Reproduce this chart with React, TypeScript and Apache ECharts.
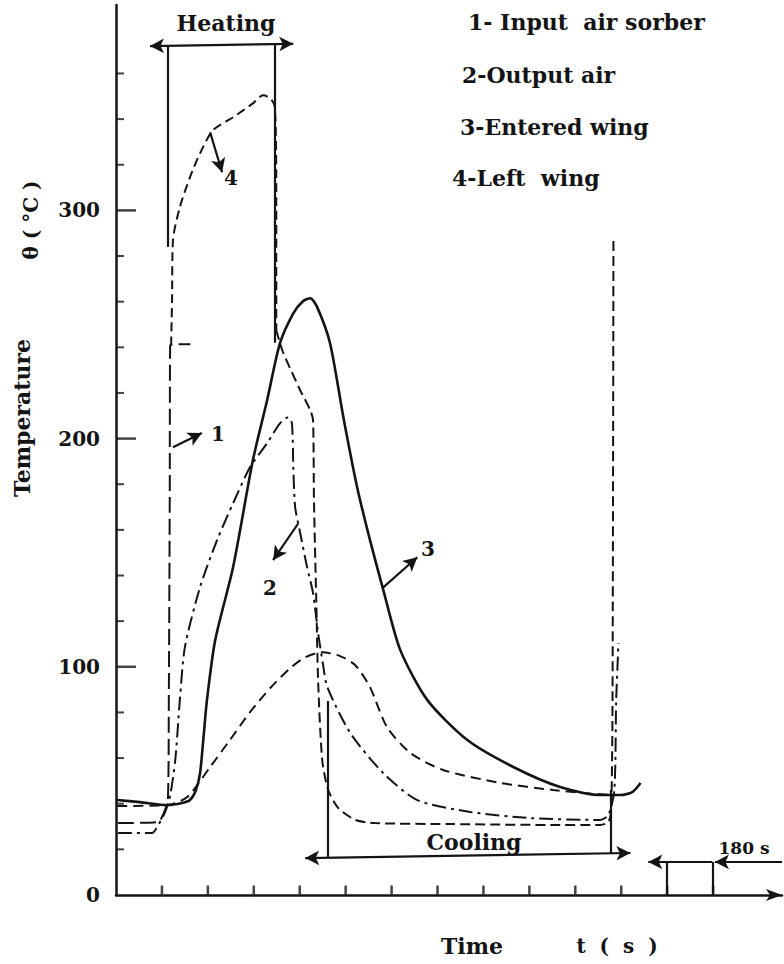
import React, { useEffect, useRef } from "react";
import * as echarts from "echarts";

type Pt = [number, number];

// x = time in axis-tick units (13 ticks on the time axis), y = temperature in °C
const yLabelValues = [0, 100, 200, 300];
const yMajorTicks = [100, 200, 300];
const yMinorTicks = [20, 40, 60, 80, 120, 140, 160, 180, 220, 240, 260, 280, 320, 340, 360];
const xTickUnits = [1, 2, 3, 4, 5, 6, 7, 8, 9, 10, 11, 12, 13];

// 1 - Input air sorber (heating step, then fall during cooling and rise at the end)
const inputAirHeating: Pt[] = [
  [0.04, 31.5], [0.92, 32.0], [1.02, 35.0], [1.13, 41.6], [1.15, 85.4], [1.17, 173],
  [1.18, 240.9], [1.39, 241.3], [1.62, 241.3],
];
const inputAirCooling: Pt[] = [
  [3.49, 247.5], [3.62, 238.7], [3.79, 230.8], [4.01, 221.2], [4.23, 212.4], [4.29, 208.1],
  [4.31, 173.0], [4.36, 129.2], [4.4, 94.2], [4.49, 59.1], [4.62, 46.0], [4.84, 38.1],
  [5.21, 32.9], [5.64, 31.5], [7.28, 31.1], [9.46, 30.7], [10.54, 30.7], [10.72, 32.0],
  [10.78, 37.2], [10.81, 85.4], [10.83, 286.9],
];
// 2 - Output air
const outputAir: Pt[] = [
  [0.04, 27.2], [0.78, 27.2], [0.92, 30.7], [1.07, 36.4], [1.18, 43.8], [1.29, 59.1],
  [1.39, 85.4], [1.5, 108.6], [1.83, 134.9], [2.2, 155.5], [2.55, 171.7], [2.92, 187.5],
  [3.29, 198.0], [3.57, 206.7], [3.75, 209.4], [3.83, 206.7], [3.86, 187.5], [3.9, 170.0],
  [4.01, 158.6], [4.16, 143.7], [4.29, 132.3], [4.4, 114.8], [4.51, 100.7], [4.6, 91.1],
  [5.1, 71.0], [5.82, 53.4], [6.56, 41.6], [7.71, 36.4], [9.02, 33.7], [10.54, 32.9],
  [10.72, 35.0], [10.85, 46.0], [10.89, 85.4], [10.94, 110.4],
];
// 3 - Entered wing
const enteredWing: Pt[] = [
  [0.02, 41.6], [0.52, 40.7], [1.11, 39.4], [1.44, 40.3], [1.61, 41.6], [1.74, 46.0],
  [1.83, 53.4], [1.9, 67.9], [1.98, 85.4], [2.16, 111.7], [2.55, 143.7], [2.98, 190.5],
  [3.29, 216.8], [3.57, 241.8], [3.86, 254.9], [4.07, 260.2], [4.23, 261.5], [4.38, 257.6],
  [4.66, 241.8], [4.95, 209.4], [5.25, 178.7], [5.53, 155.5], [5.82, 133.6], [6.19, 107.3],
  [6.78, 85.4], [7.65, 67.9], [8.65, 56.1], [9.67, 47.3], [10.54, 43.8], [10.98, 43.8],
  [11.24, 45.1], [11.42, 49.1],
];
// 4 - Left wing
const leftWing: Pt[] = [
  [1.2, 240.9], [1.22, 260.6], [1.24, 286.9], [1.39, 301.4], [1.61, 314.5], [1.83, 325.0],
  [2.11, 335.1], [2.55, 340.8], [2.98, 346.9], [3.2, 350.4], [3.36, 349.1], [3.46, 345.2],
  [3.49, 304.4], [3.49, 247.5],
];
// unlabeled dashed curve (low hump)
const lowerDashed: Pt[] = [
  [0.03, 39.0], [1.11, 39.4], [1.55, 42.9], [2.05, 56.1], [2.48, 67.9], [2.92, 80.2],
  [3.36, 90.7], [3.79, 99.4], [4.12, 104.2], [4.49, 106.4], [4.88, 104.7], [5.21, 100.7],
  [5.53, 91.1], [5.9, 73.6], [6.41, 62.2], [7.12, 54.8], [8.37, 49.1], [9.52, 46.0],
  [10.17, 44.7], [10.81, 43.8],
];

const legendLines = ["1- Input  air sorber", "2-Output air", "3-Entered wing", "4-Left  wing"];

const INK = "#141414";
const FONT = '"DejaVu Serif", "Liberation Serif", serif';

export default function App() {
  const ref = useRef<HTMLDivElement>(null);

  useEffect(() => {
    if (!ref.current) return;
    const chart = echarts.init(ref.current, undefined, { renderer: "svg" });

    const curve = (name: string, data: Pt[], type: any, width = 2) => ({
      name,
      type: "line",
      data,
      symbol: "none",
      smooth: 0.25,
      silent: true,
      clip: false,
      lineStyle: { color: INK, width, type },
      z: 3,
    });

    const seg = (a: Pt, b: Pt, endArrow = false, startArrow = false) => [
      { coord: a, symbol: startArrow ? "arrow" : "none", symbolSize: [11, 14] },
      { coord: b, symbol: endArrow ? "arrow" : "none", symbolSize: [11, 14] },
    ];

    const annotations = [
      // Heating bracket
      seg([0.74, 372], [3.86, 373], true, true),
      seg([1.13, 372], [1.13, 284]),
      seg([3.46, 373], [3.46, 242]),
      // Cooling bracket
      seg([4.12, 16.2], [11.2, 18.4], true, true),
      seg([4.62, 85], [4.62, 16.3]),
      seg([10.78, 46], [10.78, 18]),
      // 180 s marker
      seg([12.98, 14.5], [11.59, 14.5], true),
      seg([14.5, 14.5], [13.04, 14.5], true),
      seg([12, 0], [12, 14.5]),
      seg([13, 0], [13, 14.5]),
      // curve pointers
      seg([1.24, 196.2], [1.87, 202.4], true),
      seg([3.97, 162.9], [3.42, 146.7], true),
      seg([5.8, 134.5], [6.56, 148.0], true),
      seg([2.05, 334.2], [2.31, 316.7], true),
    ];

    const txt = (text: string, x: number, y: number, size: number, align = "center", rotation = 0) => ({
      type: "text",
      x,
      y,
      rotation,
      silent: true,
      style: {
        text,
        x: 0,
        y: 0,
        font: `bold ${size}px ${FONT}`,
        fill: INK,
        textAlign: align,
        textVerticalAlign: "middle",
      },
    });

    const legendPos = [
      [468, 22],
      [462, 75],
      [460, 127],
      [452, 178],
    ];

    chart.setOption({
      animation: false,
      backgroundColor: "#ffffff",
      grid: { left: 116, right: 2, top: 5, bottom: 69, containLabel: false },
      xAxis: {
        type: "value",
        min: 0,
        max: 14.5,
        interval: 1,
        axisLine: {
          show: true,
          lineStyle: { color: INK, width: 2.5 },
          symbol: ["none", "arrow"],
          symbolSize: [9, 16],
        },
        axisTick: { show: false },
        axisLabel: { show: false },
        splitLine: { show: false },
      },
      yAxis: {
        type: "value",
        min: 0,
        max: 390,
        interval: 100,
        axisLine: { show: true, lineStyle: { color: INK, width: 2.5 } },
        axisTick: { show: false },
        axisLabel: {
          margin: 16,
          color: INK,
          fontFamily: FONT,
          fontWeight: "bold",
          fontSize: 20,
          formatter: (v: number) => (yLabelValues.includes(v) ? String(v) : ""),
        },
        splitLine: { show: false },
      },
      graphic: [
        txt("Heating", 226, 23, 22),
        txt("Cooling", 474, 842, 22),
        txt("180 s", 744, 848, 17),
        txt("1", 218, 434, 20),
        txt("2", 270, 588, 20),
        txt("3", 428, 549, 20),
        txt("4", 231, 178, 20),
        txt("Time", 472, 946, 22),
        txt("t  (  s  )", 617, 946, 20),
        txt("Temperature", 22, 418, 22, "center", Math.PI / 2),
        txt("θ ( °C )", 31, 220, 20, "center", Math.PI / 2),
        ...legendLines.map((l, i) => txt(l, legendPos[i][0], legendPos[i][1], 22, "left")),
      ],
      series: [
        curve("1 Input air sorber", inputAirHeating, [16, 6], 2),
        curve("1 Input air sorber (cooling)", inputAirCooling, [10, 5], 2),
        curve("2 Output air", outputAir, [14, 5, 3, 5], 2),
        curve("3 Entered wing", enteredWing, "solid", 2.6),
        curve("4 Left wing", leftWing, [9, 5], 2),
        curve("unlabeled", lowerDashed, [10, 6], 2),
        {
          name: "x ticks",
          type: "scatter",
          silent: true,
          clip: false,
          data: xTickUnits.map((t) => [t, 0]),
          symbol: "rect",
          symbolSize: [2.5, 9],
          symbolOffset: [0, -5],
          itemStyle: { color: INK },
          z: 4,
        },
        {
          name: "y major ticks",
          type: "scatter",
          silent: true,
          clip: false,
          data: yMajorTicks.map((v) => [0, v]),
          symbol: "rect",
          symbolSize: [20, 2.5],
          symbolOffset: [10, 0],
          itemStyle: { color: INK },
          z: 4,
        },
        {
          name: "y minor ticks",
          type: "scatter",
          silent: true,
          clip: false,
          data: yMinorTicks.map((v) => [0, v]),
          symbol: "rect",
          symbolSize: [8, 2],
          symbolOffset: [4, 0],
          itemStyle: { color: INK },
          z: 4,
        },
        {
          name: "annotations",
          type: "line",
          data: [],
          silent: true,
          markLine: {
            silent: true,
            animation: false,
            symbol: ["none", "none"],
            label: { show: false },
            emphasis: { disabled: true },
            lineStyle: { color: INK, width: 2.2, type: "solid" },
            data: annotations,
          },
        },
      ],
    });

    return () => chart.dispose();
  }, []);

  return (
    <div
      ref={ref}
      style={{ position: "absolute", left: 0, top: 0, width: 784, height: 964, background: "#fff" }}
    />
  );
}
